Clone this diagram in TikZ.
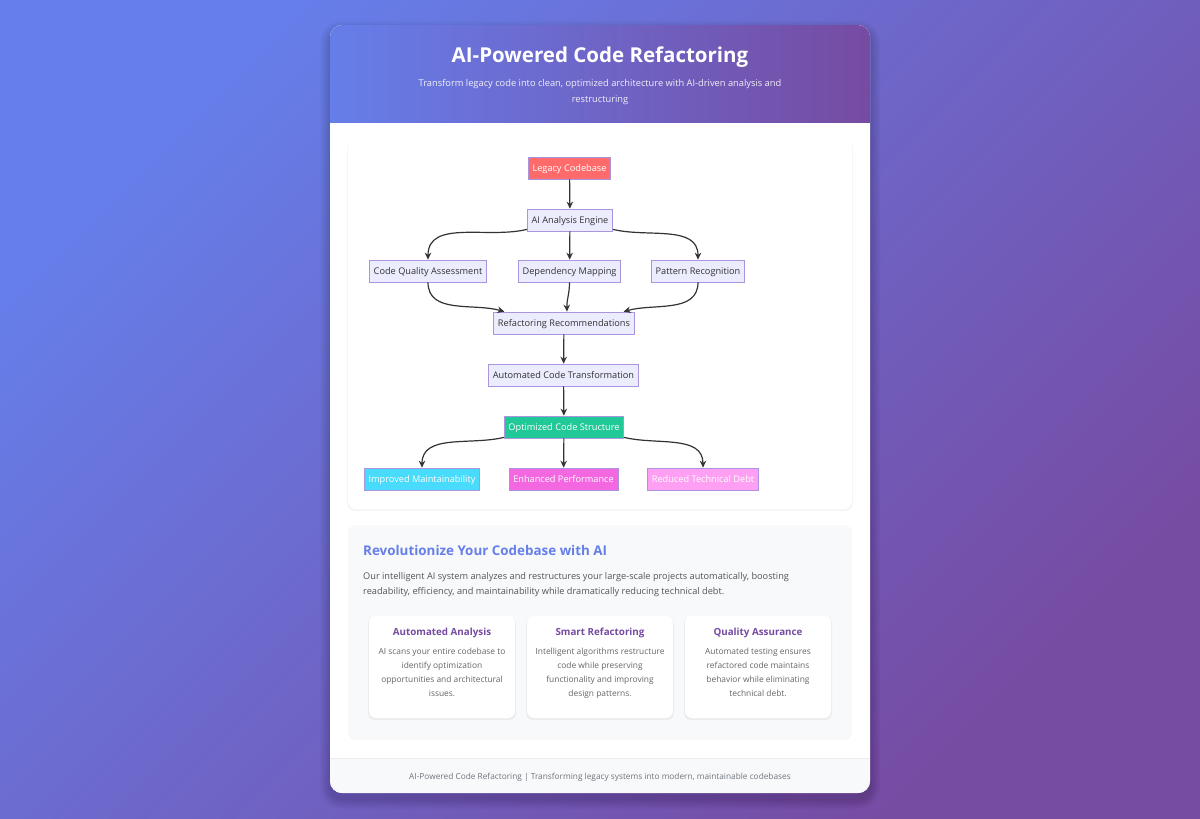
\documentclass[tikz,border=0pt]{standalone}
\usepackage{fontspec}
\setmainfont{Open Sans}
\usetikzlibrary{arrows.meta,positioning}
\definecolor{bgA}{HTML}{667EEA}
\definecolor{bgB}{HTML}{764BA2}
\definecolor{ink}{HTML}{333333}
\definecolor{nodeline}{HTML}{A995E0}
\definecolor{stepfill}{HTML}{ECECFF}
\definecolor{legacyred}{HTML}{FF6B6B}
\definecolor{optgreen}{HTML}{20C997}
\definecolor{maintcyan}{HTML}{48DBFB}
\definecolor{perfpink}{HTML}{F368E0}
\definecolor{debtpink}{HTML}{FF9FF3}
\definecolor{panelgray}{HTML}{F8F9FA}
\definecolor{bodygray}{HTML}{555555}
\definecolor{softgray}{HTML}{666666}
\definecolor{footgray}{HTML}{6C757D}
\newcommand\fsz[2]{\fontsize{#1}{#2}\selectfont}

\begin{document}
\begin{tikzpicture}[x=1pt, y=-1pt, >={Stealth[length=7pt,width=6.5pt]},
  every node/.style={font=\small},
  box/.style={draw=nodeline, line width=0.7pt, minimum height=22pt, inner xsep=4.2pt,
    inner ysep=0pt, text height=7.8pt, text depth=0.4pt, text=ink, font=\fsz{9.2}{11}},
  stepnode/.style={box, fill=stepfill},
  outnode/.style={box, text=white},
  flow/.style={->, draw=ink, line width=1.2pt},
  cardtitle/.style={font=\bfseries\fsz{9.8}{12}, text=bgB},
  cardbody/.style={font=\fsz{8.4}{13.7}, text=softgray, align=center}]

  \useasboundingbox (0,0) rectangle (1200,819);

  % Background
  \shade[top color=bgA, bottom color=bgB, shading angle=45] (0,0) rectangle (1200,819);

  % card shadow
  \foreach \i in {1,...,10}
    \fill[black, opacity=0.014, rounded corners=12+\i] (330-\i,31-\i) rectangle (870+\i,799+\i);

  % card, header and footer
  \fill[white, rounded corners=12] (330,25) rectangle (870,793);
  \begin{scope}
    \clip[rounded corners=12] (330,25) rectangle (870,793);
    \shade[left color=bgA, right color=bgB] (330,25) rectangle (870,122);
    \fill[panelgray] (330,758) rectangle (870,793);
    \draw[black!7] (330,758) -- (870,758);
  \end{scope}

  \node[font=\bfseries\fsz{20.5}{24}, text=white] (title) at (600,57.5) {AI-Powered Code Refactoring};
  \node[font=\fsz{9.3}{16}, text=white, opacity=0.9, align=center] (subtitle) at (600,92.5)
    {Transform legacy code into clean, optimized architecture with AI-driven analysis and\\restructuring};

  % diagram panel
  \fill[black, opacity=0.04, rounded corners=8] (347,141) rectangle (853,511);
  \fill[white, rounded corners=8] (348,140) rectangle (852,509);

  % Flow nodes
  \node[box, fill=legacyred, text=white] (legacy) at (569.5,168) {Legacy Codebase};
  \node[stepnode] (engine) at (570,220) {AI Analysis Engine};
  \node[stepnode] (quality) at (428,271) {Code Quality Assessment};
  \node[stepnode] (depmap) at (569.5,271) {Dependency Mapping};
  \node[stepnode] (pattern) at (698,271) {Pattern Recognition};
  \node[stepnode] (recommend) at (564,323) {Refactoring Recommendations};
  \node[stepnode] (transform) at (563.5,375) {Automated Code Transformation};
  \node[outnode, fill=optgreen] (optimized) at (564,427) {Optimized Code Structure};
  \node[outnode, fill=maintcyan] (maintain) at (422,479) {Improved Maintainability};
  \node[outnode, fill=perfpink] (perform) at (563.5,479) {Enhanced Performance};
  \node[outnode, fill=debtpink] (debt) at (703,479) {Reduced Technical Debt};

  % Connectors
  \draw[flow] (legacy) -- (engine);
  \draw[flow] ([yshift=2pt]engine.south west) to[out=194, in=90] (quality.north);
  \draw[flow] (engine) -- (depmap);
  \draw[flow] ([yshift=2pt]engine.south east) to[out=-14, in=90] (pattern.north);
  \draw[flow] (quality.south) to[out=-90, in=164] ([xshift=11pt]recommend.north west);
  \draw[flow] (depmap.south) to[out=-90, in=92] ([xshift=3pt]recommend.north);
  \draw[flow] (pattern.south) to[out=-90, in=16] ([xshift=-11pt]recommend.north east);
  \draw[flow] (recommend) -- (transform);
  \draw[flow] (transform) -- (optimized);
  \draw[flow] ([yshift=1pt]optimized.south west) to[out=194, in=90] (maintain.north);
  \draw[flow] (optimized) -- (perform);
  \draw[flow] ([yshift=1pt]optimized.south east) to[out=-14, in=90] (debt.north);

  % info panel
  \fill[panelgray, rounded corners=8] (348,525) rectangle (852,740);
  \node[anchor=west, inner xsep=0pt, font=\bfseries\fsz{13.4}{15}, text=bgA] (heading) at (363,550)
    {Revolutionize Your Codebase with AI};
  \node[anchor=north west, inner xsep=0pt, font=\fsz{9.2}{15}, text=bodygray, align=left] (intro) at (363,569)
    {Our intelligent AI system analyzes and restructures your large-scale projects automatically, boosting\\
     readability, efficiency, and maintainability while dramatically reducing technical debt.};

  % feature cards
  \foreach \x/\name in {369/analysis, 527/smart, 685/assure} {
    \fill[black, opacity=0.05, rounded corners=7] (\x-1,617) rectangle (\x+147,720);
    \fill[white, rounded corners=7] (\x,616) rectangle (\x+146,718);
  }
  \node[cardtitle] (analysis) at (442,633) {Automated Analysis};
  \node[cardtitle] (smart) at (600,633) {Smart Refactoring};
  \node[cardtitle] (assure) at (758,633) {Quality Assurance};
  \node[cardbody, anchor=north] (analysisbody) at (442,645)
    {AI scans your entire codebase to\\identify optimization\\opportunities and architectural\\issues.};
  \node[cardbody, anchor=north] (smartbody) at (600,645)
    {Intelligent algorithms restructure\\code while preserving\\functionality and improving\\design patterns.};
  \node[cardbody, anchor=north] (assurebody) at (758,645)
    {Automated testing ensures\\refactored code maintains\\behavior while eliminating\\technical debt.};

  % footer
  \node[font=\fsz{8.3}{10}, text=footgray] (footer) at (600,777)
    {AI-Powered Code Refactoring | Transforming legacy systems into modern, maintainable codebases};
\end{tikzpicture}
\end{document}
